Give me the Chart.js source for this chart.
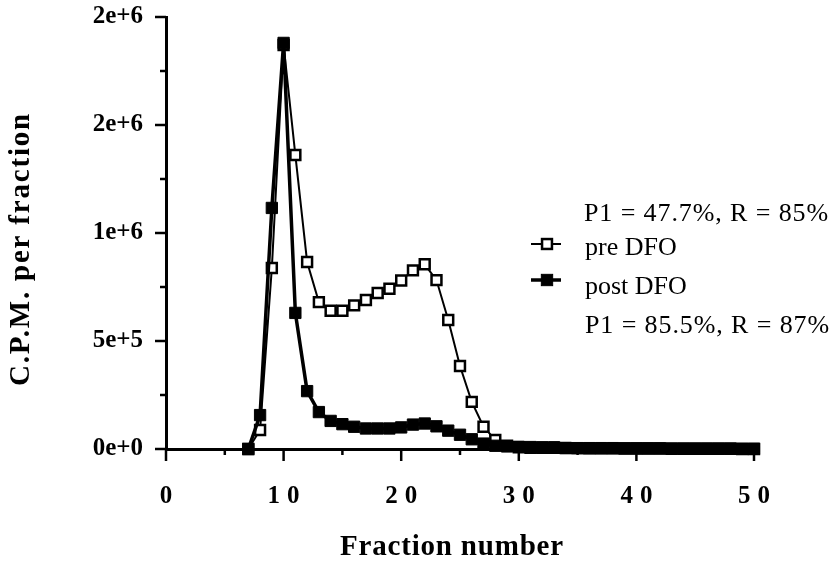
<!DOCTYPE html>
<html>
<head>
<meta charset="utf-8">
<script src="https://cdn.jsdelivr.net/npm/chart.js@4/dist/chart.umd.min.js"></script>
<style>
  html, body { margin: 0; padding: 0; background: #fff; }
  #wrap { width: 829px; height: 562px; position: relative; }
</style>
</head>
<body>
<div id="wrap"><canvas id="c"></canvas></div>
<script>
// Fraction numbers collected from the column
const fractions = [7, 8, 9, 10, 11, 12, 13, 14, 15, 16, 17, 18, 19, 20, 21, 22, 23, 24, 25, 26, 27, 28,
  29, 30, 31, 32, 33, 34, 35, 36, 37, 38, 39, 40, 41, 42, 43, 44, 45, 46, 47, 48, 49, 50];

// Counts per fraction before desferrioxamine
const preDFO = [0, 88000, 838000, 1870000, 1361000, 866000, 680000, 640000, 640000, 665000, 690000, 722000,
  742000, 780000, 827000, 855000, 782000, 597000, 384000, 218000, 103000, 42000,
  15000, 8000, 6000, 5000, 5000, 4000, 4000, 3000, 3000, 3000, 2000, 2000, 2000, 2000, 1000, 1000, 1000, 1000, 1000, 1000, 0, 0];

// Counts per fraction after desferrioxamine
const postDFO = [0, 157000, 1116000, 1880000, 630000, 268000, 171000, 130000, 115000, 103000, 95000, 95000,
  95000, 100000, 113000, 118000, 105000, 85000, 66000, 45000, 25000, 15000,
  12000, 10000, 9000, 8000, 8000, 5000, 4000, 4000, 4000, 4000, 3000, 3000, 3000, 3000, 2000, 2000, 2000, 2000, 2000, 2000, 1000, 1000];

const yTickLabels = ['0e+0', '5e+5', '1e+6', '2e+6', '2e+6'];
const xTickLabels = ['0', '10', '20', '30', '40', '50'];
const seriesNames = ['pre DFO', 'post DFO'];
const notes = ['P1 = 47.7%, R = 85%', 'P1 = 85.5%, R = 87%'];

const SERIF = '"Liberation Serif", "Times New Roman", serif';
const toPoints = vals => fractions.map((f, i) => ({ x: f, y: vals[i] }));

function spacedText(ctx, text, x, y, spacing) {
  ctx.letterSpacing = spacing + 'px';
  ctx.fillText(text, x, y);
  ctx.letterSpacing = '0px';
}

// Tick marks (long at labelled values, short in between), x labels, titles, key and notes
const decorations = {
  id: 'decorations',
  afterDraw(chart) {
    const { ctx, scales: { x, y } } = chart;
    ctx.save();
    ctx.strokeStyle = '#000';
    ctx.lineWidth = 2.5;
    ctx.lineCap = 'butt';
    for (let v = 0; v <= 2000000; v += 250000) {
      const py = y.getPixelForValue(v);
      const len = (v % 500000 === 0) ? 11 : 6;
      ctx.beginPath();
      ctx.moveTo(x.left, py);
      ctx.lineTo(x.left - len, py);
      ctx.stroke();
    }
    for (let v = 0; v <= 50; v += 5) {
      const px = x.getPixelForValue(v);
      const len = (v % 10 === 0) ? 12 : 6;
      ctx.beginPath();
      ctx.moveTo(px, y.bottom);
      ctx.lineTo(px, y.bottom + len);
      ctx.stroke();
    }

    // Fraction tick labels, widely spaced digits
    ctx.fillStyle = '#000';
    ctx.font = 'bold 25px ' + SERIF;
    ctx.textAlign = 'center';
    ctx.textBaseline = 'middle';
    xTickLabels.forEach((t, i) => {
      const sp = 7;
      spacedText(ctx, t, x.getPixelForValue(i * 10) + sp / 2, 497, sp);
    });

    // Axis titles
    ctx.font = 'bold 29px ' + SERIF;
    spacedText(ctx, 'Fraction number', 452, 548, 0.8);
    ctx.save();
    ctx.translate(22, 249);
    ctx.rotate(-Math.PI / 2);
    spacedText(ctx, 'C.P.M. per fraction', 0, 0, 1.8);
    ctx.restore();

    // Key
    const key = [
      { ds: chart.data.datasets[0], y: 244, ty: 248 },
      { ds: chart.data.datasets[1], y: 280, ty: 287 }
    ];
    key.forEach(k => {
      ctx.strokeStyle = '#000';
      ctx.lineWidth = k.ds.borderWidth;
      ctx.beginPath();
      ctx.moveTo(531, k.y);
      ctx.lineTo(561, k.y);
      ctx.stroke();
      const s = Math.SQRT1_2 * k.ds.pointRadius;
      ctx.fillStyle = k.ds.pointBackgroundColor;
      ctx.fillRect(547 - s, k.y - s, 2 * s, 2 * s);
      ctx.lineWidth = k.ds.pointBorderWidth;
      ctx.strokeRect(547 - s, k.y - s, 2 * s, 2 * s);
      ctx.fillStyle = '#000';
      ctx.font = '26px ' + SERIF;
      ctx.textAlign = 'left';
      ctx.textBaseline = 'middle';
      ctx.fillText(k.ds.label, 585, k.ty);
    });

    // Recovery notes
    ctx.font = '26px ' + SERIF;
    ctx.textAlign = 'left';
    spacedText(ctx, notes[0], 584, 214, 0.9);
    spacedText(ctx, notes[1], 585, 326, 0.9);
    ctx.restore();
  }
};

new Chart(document.getElementById('c'), {
  type: 'line',
  data: {
    datasets: [
      {
        label: seriesNames[0],
        data: toPoints(preDFO),
        borderColor: '#000',
        borderWidth: 2,
        pointStyle: 'rect',
        pointRadius: 7,
        pointBackgroundColor: '#fff',
        pointBorderColor: '#000',
        pointBorderWidth: 2.5,
        tension: 0,
        clip: false,
        order: 1
      },
      {
        label: seriesNames[1],
        data: toPoints(postDFO),
        borderColor: '#000',
        borderWidth: 3.5,
        pointStyle: 'rect',
        pointRadius: 8,
        pointBackgroundColor: '#000',
        pointBorderColor: '#000',
        pointBorderWidth: 1,
        tension: 0,
        clip: false,
        order: 0
      }
    ]
  },
  options: {
    responsive: true,
    maintainAspectRatio: false,
    animation: false,
    events: [],
    layout: { padding: { left: 0, top: 17, right: 75, bottom: 0 } },
    plugins: { legend: { display: false }, tooltip: { enabled: false } },
    scales: {
      x: {
        type: 'linear',
        min: 0,
        max: 50,
        afterFit: s => { s.height = 113; s.paddingLeft = 0; s.paddingRight = 0; },
        grid: { display: false, drawTicks: false },
        border: { display: true, color: '#000', width: 3 },
        ticks: {
          display: false,
          stepSize: 10
        }
      },
      y: {
        min: 0,
        max: 2000000,
        afterFit: s => { s.width = 166; s.paddingTop = 0; s.paddingBottom = 0; },
        grid: { display: false, drawTicks: false },
        border: { display: true, color: '#000', width: 3 },
        ticks: {
          stepSize: 500000,
          padding: 23,
          color: '#000',
          font: { family: SERIF, size: 25, weight: 'bold' },
          callback: v => yTickLabels[Math.round(v / 500000)]
        }
      }
    }
  },
  plugins: [decorations]
});
</script>
</body>
</html>
